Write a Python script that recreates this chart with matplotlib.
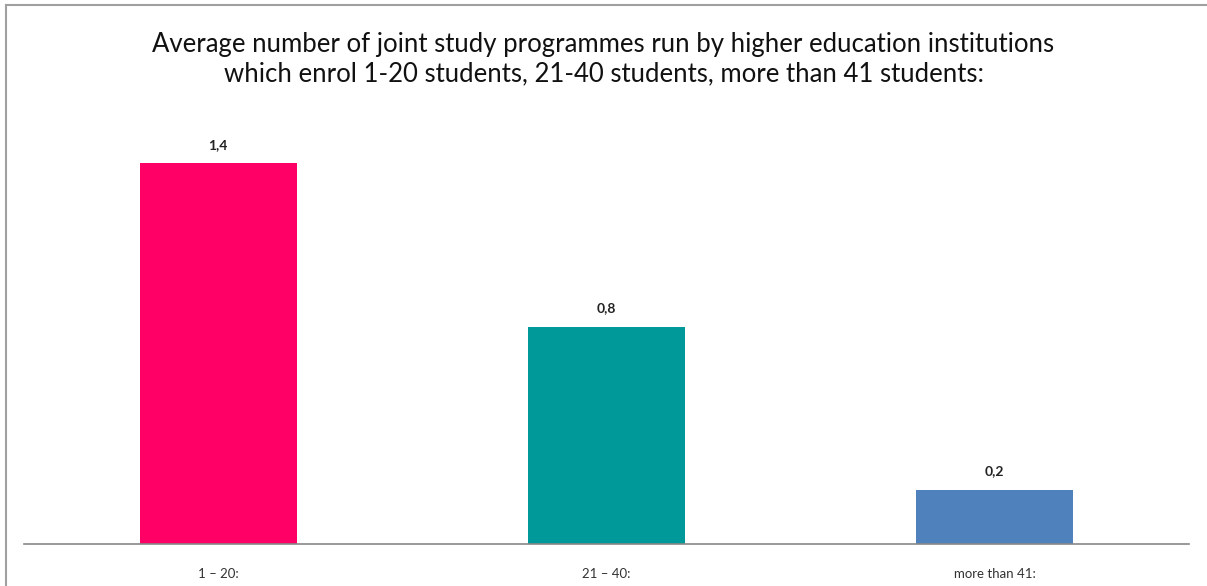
import matplotlib
matplotlib.use("Agg")
import matplotlib.pyplot as plt
from matplotlib.lines import Line2D

# datos
categorias = ["1 \u2013 20:", "21 \u2013 40:", "more than 41:"]
valores = [1.4, 0.8, 0.2]
etiquetas = ["1,4", "0,8", "0,2"]
colores = ["#FF0066", "#009999", "#4F81BD"]

plt.rcParams['font.family'] = ['Lato', 'DejaVu Sans']

W, H = 1207, 586
fig = plt.figure(figsize=(W / 100, H / 100), dpi=100)
fig.patch.set_facecolor("white")

# marco gris (izquierda y arriba)
fig.add_artist(Line2D([6 / W, 6 / W], [0, 1 - 5 / H], transform=fig.transFigure,
                      color="#a0a0a0", lw=1.5))
fig.add_artist(Line2D([6 / W, 1], [1 - 5 / H, 1 - 5 / H], transform=fig.transFigure,
                      color="#a0a0a0", lw=1.5))

ax = fig.add_axes([24 / W, (H - 544) / H, (1189 - 24) / W, 435 / H])
x = range(len(categorias))
ax.bar(x, valores, width=0.405, color=colores)
ax.set_xlim(-0.5, 2.5)
ax.set_ylim(0, 1.6)

for xi, v, t in zip(x, valores, etiquetas):
    ax.text(xi, v + 0.045, t, ha="center", va="bottom", fontsize=10,
            fontweight="bold", color="#222222")

for s in ["top", "right", "left"]:
    ax.spines[s].set_visible(False)
ax.spines["bottom"].set_color("#888888")
ax.spines["bottom"].set_linewidth(1.2)
ax.set_yticks([])
ax.set_xticks(list(x))
ax.set_xticklabels(categorias, fontsize=9.5, color="#333333")
ax.tick_params(axis="x", length=0, pad=17)

fig.text(0.5, 1 - 59 / H,
         "Average number of joint study programmes run by higher education institutions\n"
         "which enrol 1-20 students, 21-40 students, more than 41 students:",
         ha="center", va="center", fontsize=18.5, color="#111111", linespacing=1.22)

fig.savefig("out.png", dpi=100)
